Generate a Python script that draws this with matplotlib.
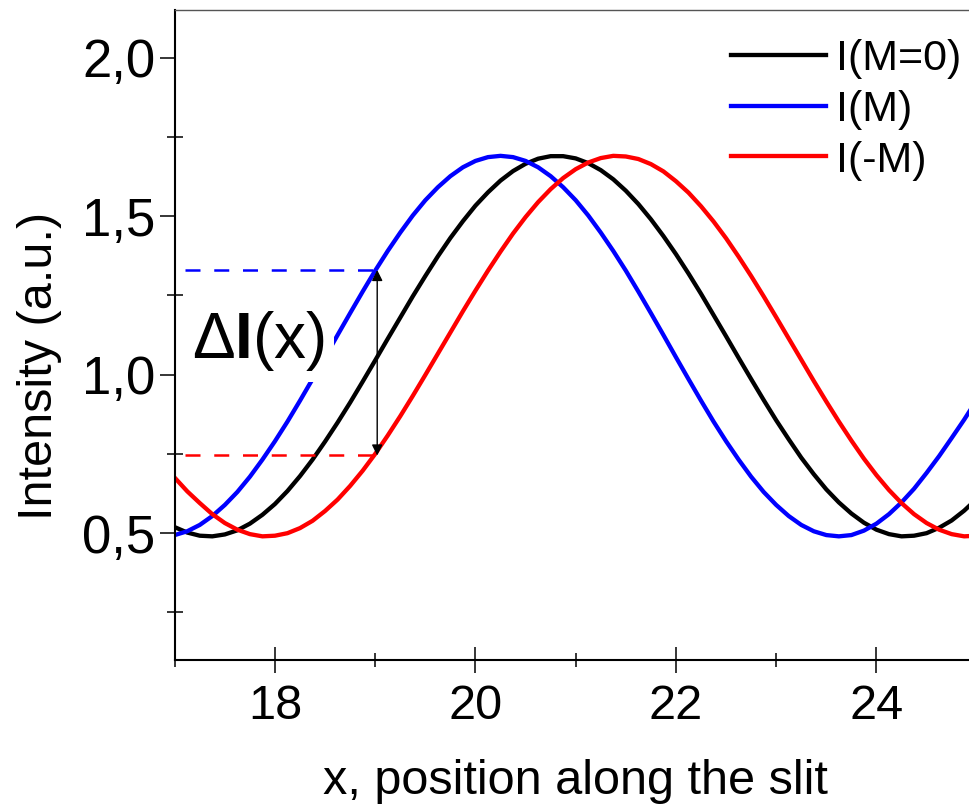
import matplotlib.pyplot as plt
from matplotlib.ticker import FixedLocator

# Intensity profiles along the slit
x_pos = [17.0, 17.125, 17.25, 17.375, 17.5, 17.625, 17.75, 17.875,
         18.0, 18.125, 18.25, 18.375, 18.5, 18.625, 18.75, 18.875,
         19.0, 19.125, 19.25, 19.375, 19.5, 19.625, 19.75, 19.875,
         20.0, 20.125, 20.25, 20.375, 20.5, 20.625, 20.75, 20.875,
         21.0, 21.125, 21.25, 21.375, 21.5, 21.625, 21.75, 21.875,
         22.0, 22.125, 22.25, 22.375, 22.5, 22.625, 22.75, 22.875,
         23.0, 23.125, 23.25, 23.375, 23.5, 23.625, 23.75, 23.875,
         24.0, 24.125, 24.25, 24.375, 24.5, 24.625, 24.75, 24.875, 25.0]
i_m0 = [0.519, 0.502, 0.492, 0.490, 0.496, 0.509, 0.530, 0.558,
        0.592, 0.633, 0.680, 0.732, 0.789, 0.849, 0.912, 0.978,
        1.045, 1.113, 1.180, 1.247, 1.311, 1.373, 1.431, 1.484,
        1.533, 1.575, 1.612, 1.642, 1.665, 1.681, 1.689, 1.689,
        1.682, 1.667, 1.645, 1.616, 1.580, 1.538, 1.490, 1.437,
        1.380, 1.319, 1.255, 1.188, 1.121, 1.053, 0.986, 0.920,
        0.856, 0.796, 0.738, 0.686, 0.638, 0.597, 0.562, 0.533,
        0.511, 0.497, 0.490, 0.492, 0.500, 0.517, 0.540, 0.571, 0.608]
i_plus = [0.494, 0.506, 0.526, 0.554, 0.589, 0.630, 0.678, 0.732,
          0.790, 0.852, 0.918, 0.986, 1.055, 1.125, 1.194, 1.262,
          1.328, 1.390, 1.448, 1.502, 1.550, 1.591, 1.626, 1.654,
          1.674, 1.686, 1.690, 1.686, 1.674, 1.654, 1.626, 1.591,
          1.550, 1.502, 1.448, 1.390, 1.328, 1.262, 1.194, 1.125,
          1.055, 0.986, 0.918, 0.852, 0.790, 0.732, 0.678, 0.630,
          0.589, 0.554, 0.526, 0.506, 0.494, 0.490, 0.494, 0.508,
          0.530, 0.560, 0.597, 0.640, 0.690, 0.743, 0.800, 0.858, 0.920]
i_minus = [0.675, 0.632, 0.595, 0.560, 0.532, 0.511, 0.497, 0.490,
           0.492, 0.500, 0.516, 0.539, 0.570, 0.606, 0.649, 0.697,
           0.750, 0.808, 0.869, 0.933, 0.999, 1.066, 1.133, 1.200,
           1.265, 1.328, 1.388, 1.445, 1.497, 1.544, 1.585, 1.620,
           1.648, 1.669, 1.683, 1.690, 1.688, 1.680, 1.664, 1.641,
           1.610, 1.574, 1.531, 1.483, 1.430, 1.372, 1.311, 1.247,
           1.181, 1.114, 1.047, 0.980, 0.915, 0.852, 0.792, 0.735,
           0.683, 0.636, 0.595, 0.560, 0.532, 0.511, 0.497, 0.490, 0.492]
labels = ["I(M=0)", "I(M)", "I(-M)"]

# Delta I marker at x = 19
x_mark = 19.02
i_high = 1.33
i_low = 0.745
dash_start = 17.1

yticks = [0.5, 1.0, 1.5, 2.0]
ytick_labels = ["0,5", "1,0", "1,5", "2,0"]
xticks = [18, 20, 22, 24]

plt.rcParams['font.family'] = ['Liberation Sans', 'DejaVu Sans']
plt.rcParams['mathtext.fontset'] = 'custom'
plt.rcParams['mathtext.rm'] = 'Liberation Sans'
plt.rcParams['mathtext.bf'] = 'Liberation Sans:bold'
plt.rcParams['mathtext.it'] = 'Liberation Sans:italic'

fig = plt.figure(figsize=(9.69, 8.05), dpi=100)
ax = fig.add_axes([174.7 / 969, 145 / 805, 802 / 969, 650 / 805])

ax.plot(x_pos, i_m0, color='black', lw=3.1, label=labels[0], solid_joinstyle='round')
ax.plot(x_pos, i_plus, color='#0000ff', lw=3.1, label=labels[1], solid_joinstyle='round')
ax.plot(x_pos, i_minus, color='#ff0000', lw=3.1, label=labels[2], solid_joinstyle='round')

ax.plot([dash_start, x_mark], [i_high, i_high], color='#0000ff', lw=1.8, dashes=(6, 5.5))
ax.plot([dash_start, x_mark], [i_low, i_low], color='#ff0000', lw=1.8, dashes=(6, 5.5))
ax.annotate('', xy=(x_mark, i_high), xytext=(x_mark, i_low),
            arrowprops=dict(arrowstyle='<|-|>', color='black', lw=1,
                            mutation_scale=16, shrinkA=0, shrinkB=0))

ax.text(17.17, 1.054, r'$\mathrm{\Delta}\mathbf{I}\mathrm{(x)}$', fontsize=46,
        va='baseline', ha='left', zorder=5,
        bbox=dict(facecolor='white', edgecolor='none', pad=7))

ax.set_xlim(17, 25)
ax.set_ylim(0.1, 2.15)

ax.set_xticks(xticks)
ax.set_xticklabels([str(t) for t in xticks], fontsize=35)
ax.xaxis.set_minor_locator(FixedLocator([17, 19, 21, 23, 25]))
ax.set_yticks(yticks)
ax.set_yticklabels(ytick_labels, fontsize=38)
ax.yaxis.set_minor_locator(FixedLocator([0.25, 0.75, 1.25, 1.75]))

ax.tick_params(axis='x', which='major', direction='inout', length=19, width=1.1, pad=8)
ax.tick_params(axis='x', which='minor', direction='inout', length=10, width=1.1)
ax.tick_params(axis='y', which='major', direction='out', length=11, width=1.1, pad=3)
ax.tick_params(axis='y', which='minor', direction='inout', length=11, width=1.1)

ax.spines['right'].set_visible(False)
ax.spines['top'].set_color('#555555')
ax.spines['top'].set_linewidth(1.0)
ax.spines['left'].set_linewidth(1.5)
ax.spines['bottom'].set_linewidth(1.5)

ax.set_xlabel('x, position along the slit', fontsize=35)
ax.xaxis.set_label_coords(0.5, -0.152)
ax.set_ylabel('Intensity (a.u.)', fontsize=35)
ax.yaxis.set_label_coords(-0.14, 0.452)

ax.legend(loc='upper left', bbox_to_anchor=(731 / 969, 1 - 39 / 805),
          bbox_transform=fig.transFigure, frameon=False, borderpad=0,
          borderaxespad=0, handlelength=2.2, handletextpad=0.25, labelspacing=0.25,
          prop={'size': 31})

fig.savefig('out.png', dpi=100)
